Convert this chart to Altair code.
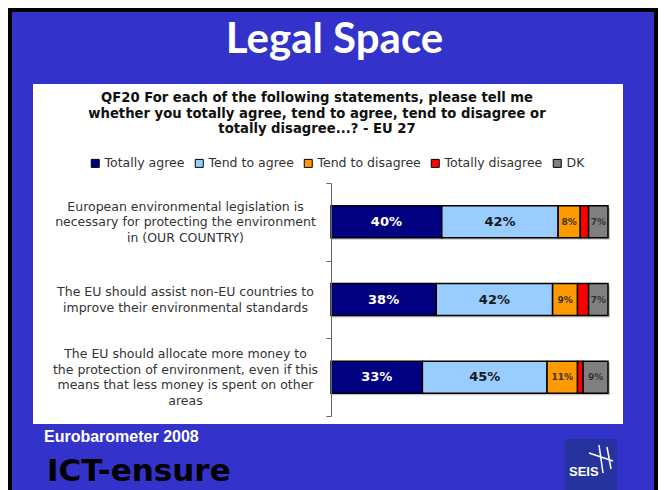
import altair as alt
import pandas as pd

# ---- data ----
statements = [
    "European environmental legislation is|necessary for protecting the environment|in (OUR COUNTRY)",
    "The EU should assist non-EU countries to|improve their environmental standards",
    "The EU should allocate more money to|the protection of environment, even if this|means that less money is spent on other|areas",
]
categories = ["Totally agree", "Tend to agree", "Tend to disagree", "Totally disagree", "DK"]
colors = ["#000080", "#99ccff", "#ff9900", "#ff0000", "#808080"]
totally_agree = [40, 38, 33]
tend_to_agree = [42, 42, 45]
tend_to_disagree = [8, 9, 11]
totally_disagree = [3, 4, 2]
dont_know = [7, 7, 9]

slide_title = ["Legal Space"]
question = ["QF20 For each of the following statements, please tell me|whether you totally agree, tend to agree, tend to disagree or|totally disagree...? - EU 27"]
source_note = ["Eurobarometer 2008"]
logo_left = ["ICT-ensure"]
logo_right = ["SEIS"]

series = [totally_agree, tend_to_agree, tend_to_disagree, totally_disagree, dont_know]
rows = []
for ci, (cat, vals) in enumerate(zip(categories, series)):
    for si, st in enumerate(statements):
        rows.append({"statement": st, "category": cat, "rank": ci,
                     "value": vals[si], "label": f"{vals[si]}%"})
df = pd.DataFrame(rows)

BG = "#3333cc"
LH = 15.5  # label line height

label_offset = {
    "condition": [
        {"test": "length(split(datum.value, '|')) == 4", "value": -1.5 * LH},
        {"test": "length(split(datum.value, '|')) == 3", "value": -1.0 * LH},
    ],
    "value": -0.5 * LH,
}

y_enc = alt.Y(
    "statement:N", sort=statements, title=None,
    scale=alt.Scale(paddingInner=0, paddingOuter=0),
    axis=alt.Axis(
        labelExpr="split(datum.label, '|')", labelAlign="center", labelBaseline="middle",
        labelOffset=label_offset,
        labelPadding=141, tickSize=5, tickBand="extent", labelLimit=400,
        labelFont="DejaVu Sans", labelFontSize=12.5, labelLineHeight=LH,
        labelColor="#333333", domainColor="#666666", tickColor="#666666",
        domainWidth=1, tickWidth=1, zindex=2,
    ),
)

one = pd.DataFrame({"k": [0]})

panel = alt.Chart(one).mark_rect(color="white").encode(
    x=alt.value(-298), x2=alt.value(292), y=alt.value(-99), y2=alt.value(241)
)

shadow = alt.Chart(df).mark_bar(color="#c8c8c8", size=32, xOffset=2, yOffset=2).encode(
    x=alt.X("sum(value):Q", scale=alt.Scale(domain=[0, 100]), axis=None),
    y=y_enc,
)

bars = alt.Chart(df).mark_bar(size=32, stroke="black", strokeWidth=1.5).encode(
    x=alt.X("value:Q", stack="zero", scale=alt.Scale(domain=[0, 100]), axis=None),
    y=y_enc,
    color=alt.Color(
        "category:N",
        scale=alt.Scale(domain=categories, range=colors),
        legend=alt.Legend(
            title=None, orient="none", legendX=-242, legendY=-26, direction="horizontal",
            symbolType="square", symbolSize=64, symbolStrokeColor="black", symbolStrokeWidth=1,
            labelFont="DejaVu Sans", labelFontSize=12.5, labelColor="#333333",
            columnPadding=8, labelOffset=3, zindex=2,
        ),
    ),
    order=alt.Order("rank:Q"),
)

stacked = alt.Chart(df).transform_stack(
    stack="value", groupby=["statement"], as_=["v0", "v1"],
    sort=[alt.SortField("rank", order="ascending")],
).transform_calculate(mid="(datum.v0 + datum.v1) / 2")

big_labels = stacked.transform_filter("datum.rank <= 1").mark_text(
    font="DejaVu Sans", fontWeight="bold", fontSize=13, baseline="middle"
).encode(
    x=alt.X("mid:Q", scale=alt.Scale(domain=[0, 100]), axis=None),
    y=y_enc,
    text="label:N",
    color=alt.condition("datum.rank == 0", alt.value("white"), alt.value("#1a1a1a")),
)

small_labels = stacked.transform_filter("datum.rank == 2 || datum.rank == 4").mark_text(
    font="DejaVu Sans", fontWeight="bold", fontSize=9, baseline="middle", color="#333333"
).encode(
    x=alt.X("mid:Q", scale=alt.Scale(domain=[0, 100]), axis=None),
    y=y_enc,
    text="label:N",
)

title_txt = alt.Chart(pd.DataFrame({"t": slide_title})).mark_text(
    font="Lato", fontWeight="bold", fontSize=42, color="white", align="center", baseline="alphabetic"
).encode(x=alt.value(3.5), y=alt.value(-130), text="t:N")

question_txt = alt.Chart(pd.DataFrame({"t": question})).transform_calculate(
    lines="split(datum.t, '|')"
).mark_text(
    font="DejaVu Sans", fontWeight="bold", fontSize=13.2, color="#111111", align="center",
    baseline="top", lineHeight=15.5
).encode(x=alt.value(-14), y=alt.value(-91), text="lines:N")

source_txt = alt.Chart(pd.DataFrame({"t": source_note})).mark_text(
    font="Liberation Sans", fontWeight="bold", fontSize=16, color="white", align="left", baseline="alphabetic"
).encode(x=alt.value(-287), y=alt.value(259), text="t:N")

ict_txt = alt.Chart(pd.DataFrame({"t": logo_left})).mark_text(
    font="DejaVu Sans", fontWeight="bold", fontSize=31, color="black", align="left", baseline="alphabetic"
).encode(x=alt.value(-284), y=alt.value(298), text="t:N")

seis_box = alt.Chart(one).mark_rect(color="#26339f").encode(
    x=alt.value(234), x2=alt.value(286), y=alt.value(256), y2=alt.value(307)
)
seis_txt = alt.Chart(pd.DataFrame({"t": logo_right})).mark_text(
    font="Liberation Sans", fontWeight="bold", fontSize=13, color="white", align="left", baseline="alphabetic"
).encode(x=alt.value(238), y=alt.value(293), text="t:N")
seis_line1 = alt.Chart(one).mark_rule(color="white", strokeWidth=1.5).encode(
    x=alt.value(258), x2=alt.value(282), y=alt.value(270), y2=alt.value(278)
)
seis_line2 = alt.Chart(one).mark_rule(color="white", strokeWidth=1.5).encode(
    x=alt.value(268), x2=alt.value(272), y=alt.value(262), y2=alt.value(290)
)
seis_line3 = alt.Chart(one).mark_rule(color="white", strokeWidth=1.5).encode(
    x=alt.value(276), x2=alt.value(280), y=alt.value(264), y2=alt.value(286)
)

border_left = alt.Chart(one).mark_rule(color="black", strokeWidth=4).encode(
    x=alt.value(-321), y=alt.value(-175), y2=alt.value(307)
)
border_top = alt.Chart(one).mark_rule(color="black", strokeWidth=4).encode(
    x=alt.value(-323), x2=alt.value(327), y=alt.value(-173)
)
border_right = alt.Chart(one).mark_rule(color="black", strokeWidth=4).encode(
    x=alt.value(325), y=alt.value(-175), y2=alt.value(307)
)

chart = alt.layer(
    panel, shadow, bars, big_labels, small_labels,
    title_txt, question_txt, source_txt, ict_txt,
    seis_box, seis_txt, seis_line1, seis_line2, seis_line3,
    border_left, border_top, border_right,
).properties(
    width=277, height=233,
    padding={"left": 323, "top": 175, "right": 50, "bottom": 74},
    autosize=alt.AutoSizeParams(type="none"),
    background=BG,
).configure_view(strokeWidth=0)

chart.save("out.html", embed_options={"renderer": "svg", "actions": False})
